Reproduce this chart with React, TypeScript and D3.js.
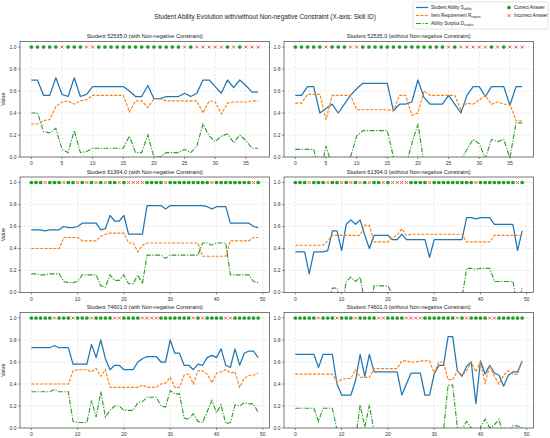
import * as d3 from "d3";

// ---- data ----
const title = "Student Ability Evolution with/without Non-negative Constraint (X-axis: Skill ID)";

// Student 52535.0 (38 skills)
const ans52535 = [1,1,1,1,1,0,1,1,1,0,0,1,1,1,1,1,1,1,1,1,1,1,1,1,1,0,1,0,0,0,0,0,1,0,1,0,0,0];
const sAbilityA = [0.70,0.70,0.56,0.56,0.72,0.57,0.55,0.72,0.55,0.57,0.64,0.64,0.64,0.64,0.64,0.64,0.60,0.55,0.55,0.65,0.53,0.53,0.55,0.55,0.55,0.58,0.55,0.58,0.70,0.70,0.64,0.58,0.70,0.63,0.70,0.65,0.59,0.59];
const rRequireA = [0.30,0.30,0.33,0.34,0.46,0.50,0.51,0.48,0.51,0.52,0.56,0.56,0.56,0.56,0.56,0.56,0.41,0.51,0.51,0.45,0.53,0.53,0.51,0.51,0.51,0.51,0.51,0.51,0.40,0.51,0.50,0.39,0.49,0.50,0.50,0.50,0.51,0.51];
const dSurplusA = [0.40,0.40,0.23,0.22,0.26,0.07,0.04,0.24,0.04,0.05,0.08,0.08,0.08,0.08,0.08,0.08,0.19,0.04,0.04,0.20,0.00,0.00,0.04,0.04,0.04,0.07,0.04,0.10,0.30,0.19,0.14,0.19,0.21,0.13,0.20,0.15,0.08,0.08];
const sAbilityB = [0.56,0.56,0.64,0.64,0.40,0.44,0.48,0.40,0.48,0.56,0.62,0.67,0.67,0.67,0.67,0.67,0.42,0.48,0.48,0.50,0.70,0.54,0.48,0.48,0.48,0.56,0.48,0.40,0.56,0.64,0.64,0.55,0.64,0.64,0.64,0.47,0.64,0.64];
const rRequireB = [0.49,0.49,0.57,0.57,0.57,0.34,0.56,0.56,0.56,0.56,0.43,0.43,0.43,0.43,0.43,0.43,0.42,0.56,0.56,0.38,0.40,0.60,0.56,0.56,0.56,0.56,0.56,0.43,0.49,0.48,0.52,0.56,0.48,0.50,0.48,0.48,0.33,0.33];
const dSurplusB = [0.07,0.07,0.07,0.07,-0.17,0.10,-0.08,-0.16,-0.08,0.00,0.19,0.24,0.24,0.24,0.24,0.24,0.00,-0.08,-0.08,0.12,0.30,-0.06,-0.08,-0.08,-0.08,0.00,-0.08,-0.03,0.07,0.16,0.12,-0.01,0.16,0.14,0.16,-0.01,0.31,0.31];

// Student 61394.0 (50 skills)
const ans61394 = [1,1,1,0,1,1,1,0,1,1,0,1,0,1,0,1,0,1,1,0,1,0,0,0,0,1,1,1,1,0,1,1,1,1,1,1,1,1,1,0,1,1,1,1,1,1,1,1,0,1];
const sAbilityC = [0.57,0.57,0.57,0.56,0.57,0.57,0.57,0.60,0.59,0.59,0.60,0.63,0.63,0.63,0.63,0.57,0.58,0.70,0.65,0.65,0.70,0.53,0.53,0.53,0.53,0.79,0.79,0.79,0.79,0.76,0.79,0.79,0.79,0.79,0.79,0.79,0.79,0.79,0.78,0.76,0.78,0.78,0.78,0.63,0.63,0.63,0.63,0.63,0.60,0.59];
const rRequireC = [0.40,0.40,0.40,0.40,0.40,0.40,0.40,0.50,0.50,0.50,0.50,0.47,0.47,0.47,0.47,0.51,0.53,0.54,0.54,0.54,0.54,0.45,0.45,0.37,0.43,0.45,0.45,0.45,0.45,0.45,0.45,0.45,0.45,0.45,0.45,0.45,0.45,0.33,0.33,0.33,0.33,0.33,0.33,0.47,0.47,0.47,0.47,0.47,0.50,0.50];
const dSurplusC = [0.17,0.17,0.16,0.16,0.17,0.17,0.17,0.10,0.09,0.09,0.10,0.16,0.16,0.16,0.16,0.06,0.05,0.16,0.11,0.11,0.16,0.08,0.08,0.16,0.08,0.34,0.34,0.34,0.34,0.31,0.34,0.34,0.34,0.34,0.34,0.34,0.34,0.45,0.45,0.43,0.45,0.45,0.45,0.16,0.16,0.16,0.16,0.16,0.10,0.09];
const sAbilityD = [0.37,0.37,0.37,0.17,0.37,0.37,0.37,0.38,0.56,0.56,0.38,0.62,0.66,0.62,0.66,0.52,0.40,0.52,0.52,0.52,0.52,0.48,0.48,0.53,0.48,0.48,0.48,0.48,0.48,0.32,0.48,0.48,0.48,0.48,0.48,0.48,0.48,0.68,0.68,0.67,0.68,0.68,0.68,0.62,0.62,0.62,0.62,0.62,0.38,0.56];
const rRequireD = [0.43,0.43,0.43,0.43,0.43,0.43,0.43,0.47,0.52,0.52,0.52,0.52,0.52,0.52,0.52,0.61,0.61,0.46,0.46,0.46,0.46,0.50,0.52,0.58,0.52,0.53,0.53,0.53,0.53,0.53,0.53,0.53,0.53,0.53,0.53,0.53,0.53,0.46,0.46,0.46,0.46,0.46,0.46,0.52,0.52,0.52,0.52,0.52,0.52,0.52];
const dSurplusD = [-0.06,-0.06,-0.06,-0.26,-0.06,-0.06,-0.06,-0.09,0.04,0.04,-0.14,0.10,0.14,0.10,0.14,-0.09,-0.21,0.06,0.06,0.06,0.06,-0.02,-0.04,-0.05,-0.04,-0.05,-0.05,-0.05,-0.05,-0.21,-0.05,-0.05,-0.05,-0.05,-0.05,-0.05,-0.05,0.22,0.22,0.21,0.22,0.22,0.22,0.10,0.10,0.10,0.10,0.10,-0.14,0.04];

// Student 74601.0 (50 skills)
const ans74601 = [1,1,1,1,1,0,1,1,1,0,1,1,1,0,1,1,1,1,0,0,1,1,1,1,0,0,0,0,1,1,1,1,1,1,1,0,1,0,1,1,1,1,0,0,1,1,1,1,1,1];
const sAbilityE = [0.73,0.73,0.73,0.73,0.73,0.75,0.73,0.73,0.73,0.58,0.58,0.58,0.58,0.76,0.64,0.80,0.63,0.53,0.57,0.57,0.53,0.53,0.53,0.60,0.63,0.65,0.65,0.65,0.60,0.60,0.80,0.68,0.68,0.57,0.57,0.53,0.58,0.57,0.64,0.66,0.64,0.72,0.57,0.55,0.72,0.57,0.68,0.70,0.70,0.64];
const rRequireE = [0.40,0.40,0.40,0.40,0.40,0.40,0.40,0.40,0.40,0.52,0.53,0.53,0.53,0.51,0.54,0.47,0.53,0.37,0.37,0.37,0.37,0.37,0.37,0.37,0.39,0.37,0.37,0.37,0.40,0.41,0.46,0.37,0.37,0.48,0.49,0.40,0.52,0.52,0.49,0.41,0.50,0.51,0.53,0.50,0.51,0.37,0.45,0.48,0.48,0.50];
const dSurplusE = [0.33,0.33,0.33,0.33,0.33,0.35,0.33,0.33,0.33,0.06,0.05,0.05,0.05,0.25,0.10,0.33,0.10,0.16,0.20,0.20,0.16,0.16,0.16,0.23,0.24,0.28,0.28,0.28,0.20,0.19,0.34,0.31,0.31,0.09,0.08,0.13,0.06,0.05,0.15,0.25,0.14,0.21,0.04,0.05,0.21,0.20,0.23,0.22,0.22,0.14];
const sAbilityF = [0.67,0.67,0.67,0.67,0.67,0.55,0.67,0.67,0.67,0.40,0.30,0.30,0.30,0.43,0.67,0.47,0.67,0.51,0.51,0.51,0.51,0.51,0.51,0.30,0.40,0.50,0.50,0.50,0.30,0.30,0.49,0.57,0.57,0.83,0.83,0.52,0.47,0.56,0.60,0.22,0.61,0.49,0.57,0.50,0.48,0.38,0.48,0.51,0.51,0.61];
const rRequireF = [0.49,0.49,0.49,0.49,0.49,0.49,0.49,0.49,0.49,0.42,0.44,0.45,0.45,0.53,0.46,0.46,0.46,0.54,0.54,0.54,0.54,0.54,0.54,0.61,0.61,0.60,0.60,0.61,0.61,0.61,0.50,0.60,0.60,0.44,0.44,0.52,0.48,0.52,0.60,0.51,0.60,0.40,0.57,0.47,0.40,0.48,0.52,0.49,0.49,0.61];
const dSurplusF = [0.18,0.18,0.18,0.18,0.18,0.06,0.18,0.18,0.18,-0.02,-0.14,-0.15,-0.15,-0.10,0.21,0.01,0.21,-0.03,-0.03,-0.03,-0.03,-0.03,-0.03,-0.31,-0.21,-0.10,-0.10,-0.11,-0.31,-0.31,-0.01,-0.03,-0.03,0.39,0.39,0.00,-0.01,0.06,0.00,-0.29,0.01,0.08,0.00,0.03,0.08,-0.10,-0.04,0.02,0.02,0.00];

const xTicks38 = [0, 5, 10, 15, 20, 25, 30, 35];
const xTicks50 = [0, 10, 20, 30, 40, 50];
const yTicks = [0, 0.2, 0.4, 0.6, 0.8, 1.0];

const panels = [
  { title: "Student 52535.0 (with Non-negative Constraint)", s: sAbilityA, r: rRequireA, d: dSurplusA, ans: ans52535, xt: xTicks38 },
  { title: "Student 52535.0 (without Non-negative Constraint)", s: sAbilityB, r: rRequireB, d: dSurplusB, ans: ans52535, xt: xTicks38 },
  { title: "Student 61394.0 (with Non-negative Constraint)", s: sAbilityC, r: rRequireC, d: dSurplusC, ans: ans61394, xt: xTicks50 },
  { title: "Student 61394.0 (without Non-negative Constraint)", s: sAbilityD, r: rRequireD, d: dSurplusD, ans: ans61394, xt: xTicks50 },
  { title: "Student 74601.0 (with Non-negative Constraint)", s: sAbilityE, r: rRequireE, d: dSurplusE, ans: ans74601, xt: xTicks50 },
  { title: "Student 74601.0 (without Non-negative Constraint)", s: sAbilityF, r: rRequireF, d: dSurplusF, ans: ans74601, xt: xTicks50 },
];

const BLUE = "#1f77b4";
const ORANGE = "#ff7f0e";
const GREEN = "#2ca02c";
const OK = "#1f9e1f";
const BAD = "#e8413c";
const FONT = "'Liberation Sans', Arial, sans-serif";

// layout
const colX = [20, 284];
const panelW = 249.5;
const rowY = [41.5, 177, 312.5];
const panelH = 115.5;

function Cross({ cx, cy, r }: { cx: number; cy: number; r: number }) {
  return (
    <path d={`M${cx - r},${cy - r}L${cx + r},${cy + r}M${cx - r},${cy + r}L${cx + r},${cy - r}`} stroke={BAD} strokeWidth={0.8} />
  );
}

function Panel({ idx, x0, y0, p, yLabel }: { idx: number; x0: number; y0: number; p: typeof panels[number]; yLabel: boolean }) {
  const n = p.s.length;
  const pad = (n - 1) * 0.05;
  const x = d3.scaleLinear().domain([-pad, n - 1 + pad]).range([x0, x0 + panelW]);
  const y = d3.scaleLinear().domain([0, 1.05]).range([y0 + panelH, y0]);
  const line = d3.line<number>().x((_, i) => x(i)).y((v) => y(v));
  const clip = `clip${idx}`;
  return (
    <g>
      <defs>
        <clipPath id={clip}>
          <rect x={x0} y={y0} width={panelW} height={panelH} />
        </clipPath>
      </defs>
      {/* grid */}
      <g stroke="#b0b0b0" strokeOpacity={0.5} strokeWidth={0.5} strokeDasharray="2.5,1.5">
        {p.xt.map((t) => (
          <line key={"gx" + t} x1={x(t)} x2={x(t)} y1={y0} y2={y0 + panelH} />
        ))}
        {yTicks.map((t) => (
          <line key={"gy" + t} x1={x0} x2={x0 + panelW} y1={y(t)} y2={y(t)} />
        ))}
      </g>
      <g clipPath={`url(#${clip})`} fill="none">
        <path d={line(p.s) ?? ""} stroke={BLUE} strokeWidth={1.25} strokeLinejoin="round" />
        <path d={line(p.r) ?? ""} stroke={ORANGE} strokeWidth={1.15} strokeDasharray="3,1.4" />
        <path d={line(p.d) ?? ""} stroke={GREEN} strokeWidth={1.15} strokeDasharray="5,1.5,1.2,1.5" />
      </g>
      {/* answers */}
      {p.ans.map((a, i) =>
        a ? (
          <circle key={"a" + i} cx={x(i)} cy={y(1)} r={1.85} fill={OK} />
        ) : (
          <Cross key={"a" + i} cx={x(i)} cy={y(1)} r={1.5} />
        )
      )}
      {/* frame */}
      <rect x={x0} y={y0} width={panelW} height={panelH} fill="none" stroke="#444" strokeWidth={0.7} />
      {/* ticks */}
      <g stroke="#444" strokeWidth={0.6}>
        {p.xt.map((t) => (
          <line key={"tx" + t} x1={x(t)} x2={x(t)} y1={y0 + panelH} y2={y0 + panelH + 2} />
        ))}
        {yTicks.map((t) => (
          <line key={"ty" + t} x1={x0 - 2} x2={x0} y1={y(t)} y2={y(t)} />
        ))}
      </g>
      <g fontFamily={FONT} fontSize={5} fill="#333">
        {p.xt.map((t) => (
          <text key={"lx" + t} x={x(t)} y={y0 + panelH + 8} textAnchor="middle">{t}</text>
        ))}
        {yTicks.map((t) => (
          <text key={"ly" + t} x={x0 - 3.5} y={y(t) + 1.8} textAnchor="end">{t.toFixed(1)}</text>
        ))}
      </g>
      <text x={x0 + panelW / 2} y={y0 - 3.5} textAnchor="middle" fontFamily={FONT} fontSize={5.5} fill="#222">
        {p.title}
      </text>
      {yLabel && (
        <text transform={`translate(5,${y0 + panelH / 2}) rotate(-90)`} textAnchor="middle" fontFamily={FONT} fontSize={5.3} fill="#222">
          Value
        </text>
      )}
    </g>
  );
}

function Legend() {
  const lx = 413, ly = 2;
  const rows = [
    { c: BLUE, dash: "none", main: "Student Ability S", sub: "ability" },
    { c: ORANGE, dash: "3,1.4", main: "Item Requirement R", sub: "require" },
    { c: GREEN, dash: "5,1.5,1.2,1.5", main: "Ability Surplus D", sub: "surplus" },
  ];
  return (
    <g>
      <rect x={lx} y={ly} width={135} height={27} rx={1.5} fill="#fff" stroke="#d0d0d0" strokeWidth={0.6} />
      {rows.map((r, i) => (
        <g key={r.main}>
          <path d={`M${lx + 3},${ly + 5.5 + i * 8}H${lx + 15}`} fill="none" stroke={r.c} strokeWidth={1.2} strokeDasharray={r.dash} />
          <text x={lx + 18} y={ly + 7 + i * 8} fontFamily={FONT} fontSize={4.5} fill="#222">
            {r.main}
            <tspan fontSize={3} dy={1}>{r.sub}</tspan>
          </text>
        </g>
      ))}
      <circle cx={lx + 96} cy={ly + 5.5} r={1.85} fill={OK} />
      <text x={lx + 101} y={ly + 7} fontFamily={FONT} fontSize={4.5} fill="#222">Correct Answer</text>
      <Cross cx={lx + 96} cy={ly + 13.5} r={1.5} />
      <text x={lx + 101} y={ly + 15} fontFamily={FONT} fontSize={4.5} fill="#222">Incorrect Answer</text>
    </g>
  );
}

export default function App() {
  return (
    <svg width={550} height={438} style={{ position: "absolute", left: 0, top: 0, background: "#fff" }}>
      <rect width={550} height={438} fill="#fff" />
      <text x={265} y={19} textAnchor="middle" fontFamily={FONT} fontSize={6.4} fill="#222">
        {title}
      </text>
      <Legend />
      {panels.map((p, i) => (
        <Panel key={i} idx={i} x0={colX[i % 2]} y0={rowY[Math.floor(i / 2)]} p={p} yLabel={i % 2 === 0} />
      ))}
    </svg>
  );
}
